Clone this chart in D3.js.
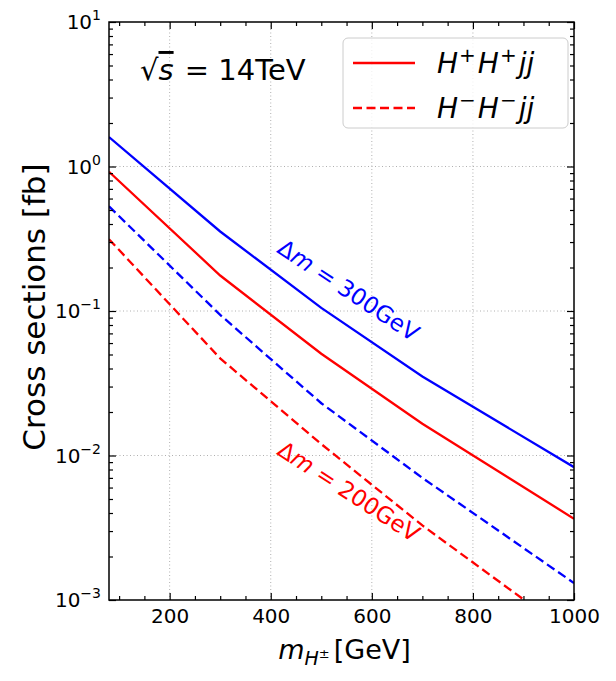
<!DOCTYPE html>
<html lang="en">
<head>
<meta charset="UTF-8">
<title>Cross sections</title>
<script src="https://cdn.jsdelivr.net/npm/d3@7"></script>
<style>
    body { margin: 0; background: #fff; }
    svg { display: block; font-family: "DejaVu Sans", sans-serif; }
</style>
</head>
<body>
<div id="chart"></div>
<script>
const masses = [80, 300, 500, 700, 1000];
const ppDm300 = [1.60, 0.355, 0.105, 0.0352, 0.0083];
const ppDm200 = [0.92, 0.176, 0.0506, 0.0166, 0.00365];
const mmDm300 = [0.53, 0.094, 0.023, 0.0070, 0.00131];
const mmDm200 = [0.314, 0.047, 0.012, 0.00328, 0.00056];
const xTicks = [200, 400, 600, 800, 1000];
const yExponents = [-3, -2, -1, 0, 1];

const W = 616, H = 681;
const margin = { top: 22, right: 42, bottom: 81, left: 109 };
const pLeft = margin.left, pRight = W - margin.right;
const pTop = margin.top, pBottom = H - margin.bottom;
const dashed = "9,4.5";

const series = [
    { values: ppDm300, color: "#0000ff", dash: null },
    { values: ppDm200, color: "#ff0000", dash: null },
    { values: mmDm300, color: "#0000ff", dash: dashed },
    { values: mmDm200, color: "#ff0000", dash: dashed }
];

const svg = d3.select("#chart").append("svg")
    .attr("width", W)
    .attr("height", H);

const x = d3.scaleLinear().domain([80, 1000]).range([pLeft, pRight]);
const y = d3.scaleLog().domain([1e-3, 1e1]).range([pBottom, pTop]);

// writes a mathtext-like label out of tspans
function mathText(sel, parts, size) {
    let shift = 0;
    parts.forEach(p => {
        const s = p.shift || 0;
        sel.append("tspan")
            .attr("dy", s - shift)
            .attr("dx", p.dx || null)
            .attr("font-size", p.size || size)
            .attr("font-style", p.italic ? "italic" : "normal")
            .style("text-decoration", p.over ? "overline" : null)
            .text(p.t);
        shift = s;
    });
}

// grid
const grid = svg.append("g")
    .attr("stroke", "#b0b0b0")
    .attr("stroke-width", 1)
    .attr("stroke-dasharray", "1,2.5");
grid.selectAll(".gx").data(xTicks.filter(d => d < 1000)).enter().append("line")
    .attr("x1", d => x(d)).attr("x2", d => x(d))
    .attr("y1", pTop).attr("y2", pBottom);
grid.selectAll(".gy").data(yExponents.filter(e => e > -3 && e < 1)).enter().append("line")
    .attr("x1", pLeft).attr("x2", pRight)
    .attr("y1", e => y(Math.pow(10, e))).attr("y2", e => y(Math.pow(10, e)));

// curves
svg.append("clipPath").attr("id", "plot-clip")
    .append("rect").attr("x", pLeft).attr("y", pTop)
    .attr("width", pRight - pLeft).attr("height", pBottom - pTop);

const line = d3.line()
    .x((d, i) => x(masses[i]))
    .y(d => y(d));

svg.append("g").attr("clip-path", "url(#plot-clip)")
    .selectAll("path").data(series).enter().append("path")
    .attr("d", d => line(d.values))
    .attr("fill", "none")
    .attr("stroke", d => d.color)
    .attr("stroke-width", 2.3)
    .attr("stroke-dasharray", d => d.dash);

// axes with inward ticks on all four sides
const xMinor = d3.range(100, 1000, 50).filter(v => !xTicks.includes(v));
const yMinor = [];
for (let e = -3; e < 1; e++) for (let k = 2; k < 10; k++) yMinor.push(k * Math.pow(10, e));
const yMajor = yExponents.map(e => Math.pow(10, e));

function styleAxis(g) {
    g.select(".domain").remove();
    g.selectAll(".tick line").attr("stroke", "#000").attr("stroke-width", 1.2);
}

svg.append("g").attr("transform", `translate(0,${pBottom})`)
    .call(d3.axisBottom(x).tickValues(xTicks).tickSize(-7).tickPadding(9).tickFormat(d3.format("d")))
    .call(styleAxis)
    .call(g => g.selectAll("text").attr("font-size", 20).attr("fill", "#000")
        .attr("font-family", "DejaVu Sans"));
svg.append("g").attr("transform", `translate(0,${pBottom})`)
    .call(d3.axisBottom(x).tickValues(xMinor).tickSize(-4).tickFormat(""))
    .call(styleAxis);
svg.append("g").attr("transform", `translate(0,${pTop})`)
    .call(d3.axisTop(x).tickValues(xTicks).tickSize(-7).tickFormat(""))
    .call(styleAxis);
svg.append("g").attr("transform", `translate(0,${pTop})`)
    .call(d3.axisTop(x).tickValues(xMinor).tickSize(-4).tickFormat(""))
    .call(styleAxis);

svg.append("g").attr("transform", `translate(${pLeft},0)`)
    .call(d3.axisLeft(y).tickValues(yMajor).tickSize(-7).tickFormat(""))
    .call(styleAxis);
svg.append("g").attr("transform", `translate(${pLeft},0)`)
    .call(d3.axisLeft(y).tickValues(yMinor).tickSize(-4).tickFormat(""))
    .call(styleAxis);
svg.append("g").attr("transform", `translate(${pRight},0)`)
    .call(d3.axisRight(y).tickValues(yMajor).tickSize(-7).tickFormat(""))
    .call(styleAxis);
svg.append("g").attr("transform", `translate(${pRight},0)`)
    .call(d3.axisRight(y).tickValues(yMinor).tickSize(-4).tickFormat(""))
    .call(styleAxis);

yExponents.forEach(e => {
    const t = svg.append("text")
        .attr("x", pLeft - 8)
        .attr("y", y(Math.pow(10, e)) + 7)
        .attr("text-anchor", "end");
    mathText(t, [
        { t: "10" },
        { t: e < 0 ? "\u2212" + (-e) : String(e), size: 14, shift: -9 }
    ], 20);
});

svg.append("rect")
    .attr("x", pLeft).attr("y", pTop)
    .attr("width", pRight - pLeft).attr("height", pBottom - pTop)
    .attr("fill", "none").attr("stroke", "#000").attr("stroke-width", 1.5);

// axis titles
const xTitle = svg.append("text")
    .attr("x", (pLeft + pRight) / 2 + 3).attr("y", 659)
    .attr("text-anchor", "middle");
mathText(xTitle, [
    { t: "m", italic: true },
    { t: "H", italic: true, size: 19, shift: 6 },
    { t: "\u00b1", size: 13, shift: -1 },
    { t: "[GeV]", shift: 0, dx: 4 }
], 27);

svg.append("text")
    .attr("transform", `translate(45,${(pTop + pBottom) / 2 - 4}) rotate(-90)`)
    .attr("text-anchor", "middle")
    .attr("font-size", 31)
    .text("Cross sections [fb]");

// energy note
const note = svg.append("text").attr("x", 140).attr("y", 80);
mathText(note, [
    { t: "\u221a" },
    { t: "s", italic: true, over: true },
    { t: " = 14TeV", dx: 2 }
], 29);

// rotated labels
svg.append("text")
    .attr("transform", `translate(${x(410)},${y(0.257)}) rotate(33.5)`)
    .attr("fill", "#0000ff")
    .call(t => mathText(t, [{ t: "\u0394" }, { t: "m", italic: true }, { t: " = 300GeV" }], 23));
svg.append("text")
    .attr("transform", `translate(${x(410)},${y(0.0103)}) rotate(33)`)
    .attr("fill", "#ff0000")
    .call(t => mathText(t, [{ t: "\u0394" }, { t: "m", italic: true }, { t: " = 200GeV" }], 23));

// legend
const legendItems = [
    { sign: "+", dash: null },
    { sign: "\u2212", dash: dashed }
];
const legend = svg.append("g");
legend.append("rect")
    .attr("x", 343).attr("y", 38).attr("width", 225).attr("height", 90)
    .attr("rx", 5)
    .attr("fill", "#fff").attr("fill-opacity", 0.8)
    .attr("stroke", "#cccccc").attr("stroke-width", 1);
legendItems.forEach((d, i) => {
    const yy = 63 + i * 45;
    legend.append("line")
        .attr("x1", 353).attr("x2", 415).attr("y1", yy).attr("y2", yy)
        .attr("stroke", "#ff0000").attr("stroke-width", 2.3)
        .attr("stroke-dasharray", d.dash);
    const t = legend.append("text").attr("x", 437).attr("y", yy + 10);
    mathText(t, [
        { t: "H", italic: true },
        { t: d.sign, size: 20, shift: -11, dx: 1 },
        { t: "H", italic: true, shift: 0, dx: 2 },
        { t: d.sign, size: 20, shift: -11, dx: 1 },
        { t: "jj", italic: true, shift: 0, dx: 2 }
    ], 28);
});
</script>
</body>
</html>
